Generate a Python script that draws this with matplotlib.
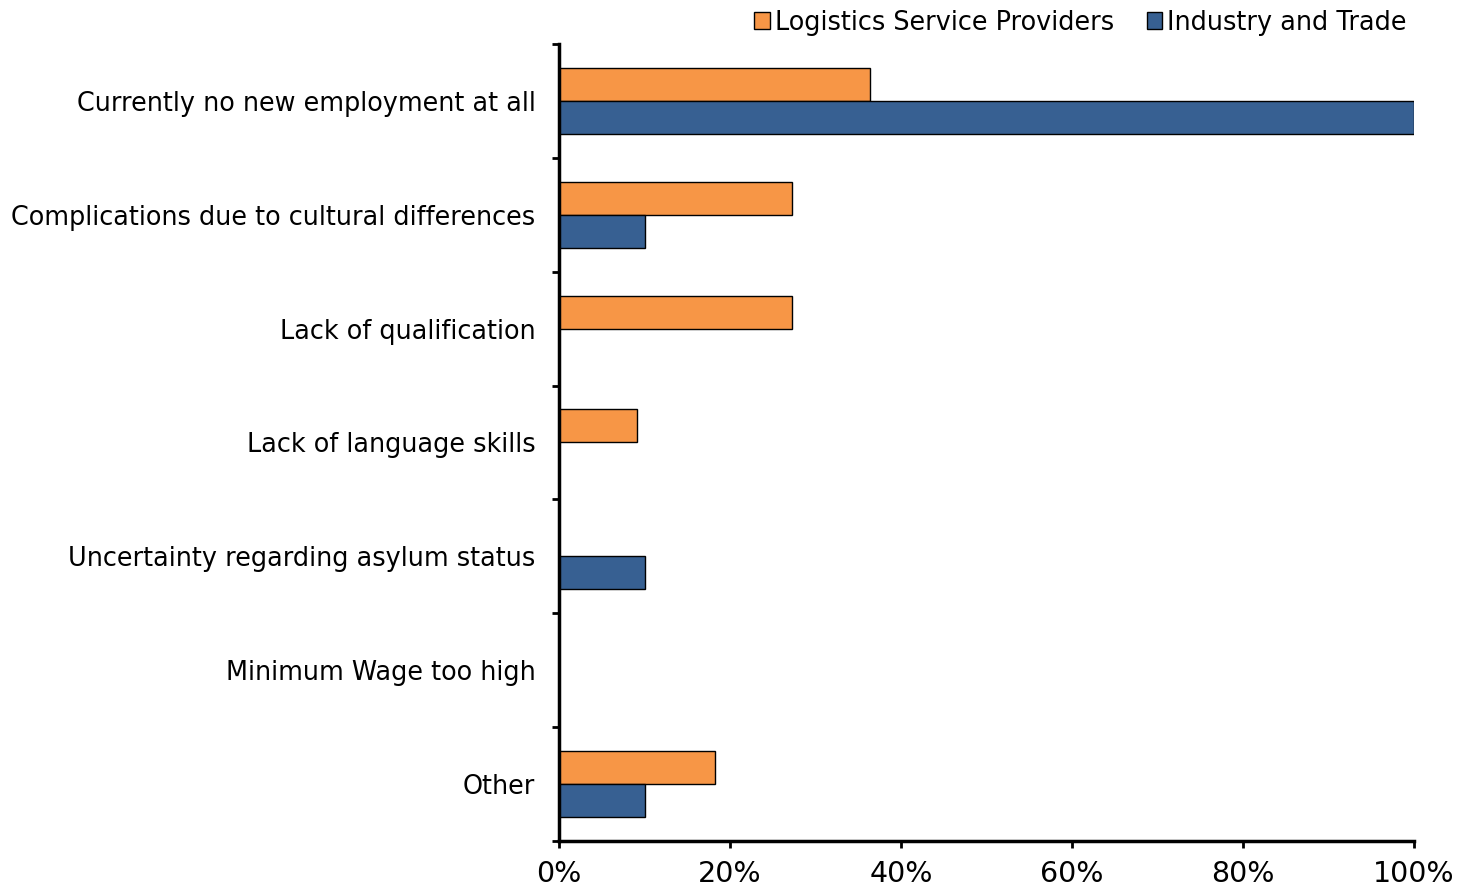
import numpy as np
import matplotlib.pyplot as plt

categories = [
    "Currently no new employment at all",
    "Complications due to cultural differences",
    "Lack of qualification",
    "Lack of language skills",
    "Uncertainty regarding asylum status",
    "Minimum Wage too high",
    "Other",
]
logistics = [36.4, 27.3, 27.3, 9.1, 0, 0, 18.2]
industry = [100, 10, 0, 0, 10, 0, 10]

plt.rcParams['font.family'] = 'DejaVu Sans'

fig = plt.figure(figsize=(14.66, 8.96), dpi=100)
ax = fig.add_axes([559 / 1466, 1 - 841 / 896, 855 / 1466, 797 / 896])

y = np.arange(len(categories))
h = 0.29
ax.barh(y - h / 2, logistics, height=h, color='#F79646', edgecolor='black',
        linewidth=1, label='Logistics Service Providers')
ax.barh(y + h / 2, industry, height=h, color='#376092', edgecolor='black',
        linewidth=1, label='Industry and Trade')

ax.set_ylim(len(categories) - 0.5, -0.5)
ax.set_xlim(0, 100)

ax.set_yticks(y)
ax.set_yticklabels(categories, fontsize=18.4)
ax.tick_params(axis='y', length=0, pad=17)
ax.set_yticks(np.arange(-0.5, len(categories)), minor=True)
ax.tick_params(axis='y', which='minor', length=5, width=2, direction='out')

ax.set_xticks(np.arange(0, 101, 20))
ax.set_xticklabels([f"{v}%" for v in range(0, 101, 20)], fontsize=20.5)
ax.tick_params(axis='x', length=5, width=2, direction='out', pad=9)

for side in ['top', 'right']:
    ax.spines[side].set_visible(False)
for side in ['left', 'bottom']:
    ax.spines[side].set_linewidth(2.5)

fig.legend(loc='upper right', bbox_to_anchor=(1430 / 1466, 1.015), ncol=2,
           frameon=False, fontsize=18.4, handlelength=0.6, handleheight=0.6,
           handletextpad=0.2, columnspacing=1.3)

fig.savefig('out.png', dpi=100)
